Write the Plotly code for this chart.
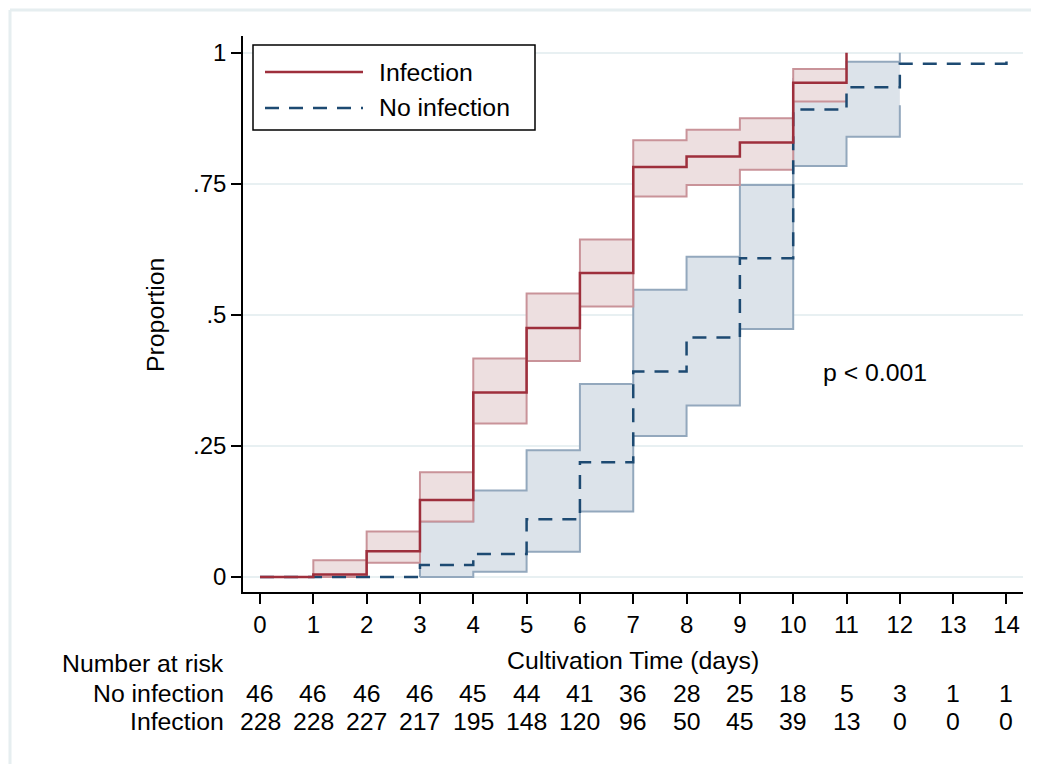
import plotly.graph_objects as go

# ---------------- data ----------------
days = list(range(15))
x_ticktext = [str(d) for d in days]
y_tickvals = [0, 0.25, 0.5, 0.75, 1]
y_ticktext = ["0", ".25", ".5", ".75", "1"]

# Infection: cumulative proportion (step starts at each day)
inf_t = [0, 1, 2, 3, 4, 5, 6, 7, 8, 9, 10, 11]
inf_est = [0.0, 0.005, 0.049, 0.147, 0.352, 0.475, 0.580, 0.782, 0.802, 0.829, 0.943, 1.0]
inf_band_t = [1, 2, 3, 4, 5, 6, 7, 8, 9, 10, 11]
inf_lo = [0.0, 0.027, 0.106, 0.293, 0.412, 0.516, 0.726, 0.748, 0.777, 0.907, 0.907]
inf_hi = [0.032, 0.087, 0.200, 0.417, 0.541, 0.644, 0.833, 0.853, 0.875, 0.969, 0.969]

# No infection
noinf_t = [0, 1, 2, 3, 4, 5, 6, 7, 8, 9, 10, 11, 12, 13, 14]
noinf_est = [0.0, 0.0, 0.0, 0.023, 0.044, 0.110, 0.219, 0.392, 0.457, 0.608, 0.892, 0.934, 0.979, 0.979, 1.0]
noinf_band_t = [3, 4, 5, 6, 7, 8, 9, 10, 11, 12]
noinf_lo = [0.0, 0.010, 0.048, 0.125, 0.269, 0.327, 0.473, 0.784, 0.840, 0.900]
noinf_hi = [0.106, 0.165, 0.242, 0.368, 0.548, 0.611, 0.748, 0.950, 0.983, 1.0]

risk_noinf = [46, 46, 46, 46, 45, 44, 41, 36, 28, 25, 18, 5, 3, 1, 1]
risk_inf = [228, 228, 227, 217, 195, 148, 120, 96, 50, 45, 39, 13, 0, 0, 0]

# ---------------- style ----------------
RED = "#9e2f3c"
BLUE = "#1d4a72"
RED_FILL = "#eddfe0"
BLUE_FILL = "#dce3ea"
RED_EDGE = "#c99399"
BLUE_EDGE = "#93a8bd"
GRID = "#e8f0f2"
FONT = "Liberation Sans, Arial, Helvetica, sans-serif"
FS_TXT = 24.8
FS_TICK = 24

OFF = 8  # page body margin
W, H = 1039, 764
PL, PR, PT, PB = 243, 1023, 36, 592  # plot area in screen pixels
L, T = PL - OFF, PT - OFF
R = W - (PR - OFF)
B = H - (PB - OFF)
PW, PH = W - L - R, H - T - B


def px(xp):
    return (xp - OFF - L) / PW


def py(yp):
    return (H - B - (yp - OFF)) / PH


def step_poly(t, lo, hi):
    xs, ys = [], []
    for i in range(len(t)):
        if i > 0:
            xs.append(t[i]); ys.append(hi[i - 1])
        xs.append(t[i]); ys.append(hi[i])
    lx, ly = [], []
    for i in range(len(t)):
        if i > 0:
            lx.append(t[i]); ly.append(lo[i - 1])
        lx.append(t[i]); ly.append(lo[i])
    xs += lx[::-1]
    ys += ly[::-1]
    xs.append(xs[0]); ys.append(ys[0])
    return xs, ys


fig = go.Figure()


def add_band(t, lo, hi, fill, edge):
    xs, ys = step_poly(t, lo, hi)
    fig.add_trace(go.Scatter(x=xs, y=ys, mode="lines", fill="toself",
                             fillcolor=fill, line=dict(width=0), hoverinfo="skip",
                             showlegend=False))
    fig.add_trace(go.Scatter(x=[t[0]] + t, y=[lo[0]] + hi, mode="lines",
                             line=dict(color=edge, width=2, shape="hv"),
                             hoverinfo="skip", showlegend=False))
    fig.add_trace(go.Scatter(x=t, y=lo, mode="lines",
                             line=dict(color=edge, width=2, shape="hv"),
                             hoverinfo="skip", showlegend=False))


add_band(noinf_band_t, noinf_lo, noinf_hi, BLUE_FILL, BLUE_EDGE)
add_band(inf_band_t, inf_lo, inf_hi, RED_FILL, RED_EDGE)

fig.add_trace(go.Scatter(x=noinf_t, y=noinf_est, mode="lines", name="No infection",
                         line=dict(color=BLUE, width=2.5, shape="hv", dash="14px,10px"),
                         showlegend=False))
fig.add_trace(go.Scatter(x=inf_t, y=inf_est, mode="lines", name="Infection",
                         line=dict(color=RED, width=2.5, shape="hv"),
                         showlegend=False))

# ---------------- axes ----------------
fig.update_xaxes(range=[-0.319, 14.31], tickmode="array", tickvals=days,
                 ticktext=x_ticktext, ticks="outside", ticklen=10, tickwidth=1.5,
                 tickcolor="black", showline=True, linecolor="black", linewidth=1.5,
                 showgrid=False, zeroline=False,
                 tickfont=dict(family=FONT, size=FS_TICK, color="black"))
fig.update_yaxes(range=[-0.0286, 1.032], tickmode="array", tickvals=y_tickvals,
                 ticktext=y_ticktext, ticks="outside", ticklen=10, tickwidth=1.5,
                 tickcolor="black", showline=True, linecolor="black", linewidth=1.5,
                 showgrid=True, gridcolor=GRID, gridwidth=2, zeroline=False,
                 tickfont=dict(family=FONT, size=FS_TICK, color="black"))


def txt(x, y, s, xanchor="center", xref="paper", yref="paper", angle=0):
    return dict(x=x, y=y, xref=xref, yref=yref, text=s, showarrow=False,
                xanchor=xanchor, yanchor="middle", textangle=angle,
                font=dict(family=FONT, size=FS_TXT, color="black"))


ann = []
ann.append(txt(px(633), py(660), "Cultivation Time (days)"))
ann.append(txt(px(155), py(315), "Proportion", angle=-90))
ann.append(txt(10.52, 0.391, "p < 0.001", xanchor="left", xref="x", yref="y"))
ann.append(txt(px(226), py(663), "Number at risk", xanchor="right"))
ann.append(txt(px(226), py(693), "No infection", xanchor="right"))
ann.append(txt(px(226), py(722), "Infection", xanchor="right"))
for d, n1, n2 in zip(days, risk_noinf, risk_inf):
    ann.append(txt(d, py(693), str(n1), xref="x"))
    ann.append(txt(d, py(722), str(n2), xref="x"))

# legend (drawn manually)
ann.append(txt(px(377), py(72), "Infection", xanchor="left"))
ann.append(txt(px(377), py(108), "No infection", xanchor="left"))

shapes = [
    dict(type="rect", xref="paper", yref="paper", x0=px(253), x1=px(535), y0=py(130), y1=py(45),
         line=dict(color="black", width=1.5), fillcolor="white", layer="above"),
    dict(type="line", xref="paper", yref="paper", x0=px(265), x1=px(363), y0=py(72), y1=py(72),
         line=dict(color=RED, width=2.5), layer="above"),
    dict(type="line", xref="paper", yref="paper", x0=px(265), x1=px(363), y0=py(108), y1=py(108),
         line=dict(color=BLUE, width=2.5, dash="14px,10px"), layer="above"),
    # outer graph-region frame (top & left visible)
    dict(type="line", xref="paper", yref="paper", x0=px(10), x1=px(1060), y0=py(10), y1=py(10),
         line=dict(color="#e6eef0", width=3), layer="below"),
    dict(type="line", xref="paper", yref="paper", x0=px(10), x1=px(10), y0=py(10), y1=py(800),
         line=dict(color="#e6eef0", width=3), layer="below"),
]

fig.update_layout(width=W, height=H, autosize=False,
                  margin=dict(l=L, r=R, t=T, b=B, pad=0),
                  paper_bgcolor="white", plot_bgcolor="white",
                  showlegend=False, annotations=ann, shapes=shapes,
                  font=dict(family=FONT, size=FS_TXT, color="black"))

fig.write_html("out.html")
